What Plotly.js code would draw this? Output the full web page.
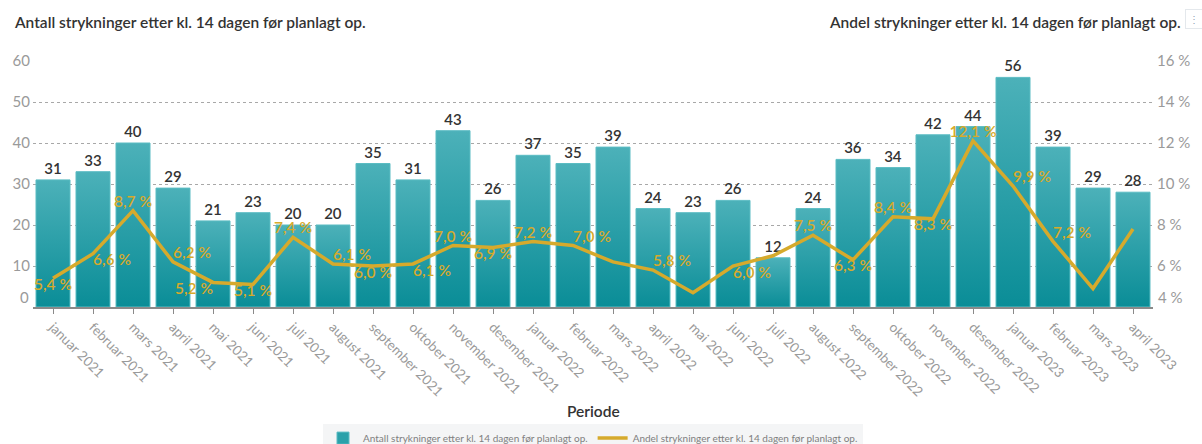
<!DOCTYPE html>
<html>
<head>
<meta charset="utf-8">
<script src="https://cdn.plot.ly/plotly-3.0.1.min.js"></script>
<style>
  html, body { margin: 0; padding: 0; background: #ffffff; }
  #chart { width: 1202px; height: 444px; }
</style>
</head>
<body>
<div id="chart"></div>
<script>
// Periods (months), counts and shares
var periods = [
  "januar 2021", "februar 2021", "mars 2021", "april 2021", "mai 2021", "juni 2021",
  "juli 2021", "august 2021", "september 2021", "oktober 2021", "november 2021", "desember 2021",
  "januar 2022", "februar 2022", "mars 2022", "april 2022", "mai 2022", "juni 2022",
  "juli 2022", "august 2022", "september 2022", "oktober 2022", "november 2022", "desember 2022",
  "januar 2023", "februar 2023", "mars 2023", "april 2023"
];
var antall = [31, 33, 40, 29, 21, 23, 20, 20, 35, 31, 43, 26,
              37, 35, 39, 24, 23, 26, 12, 24, 36, 34, 42, 44,
              56, 39, 29, 28];
var andel = [5.4, 6.6, 8.7, 6.2, 5.2, 5.1, 7.4, 6.1, 6.0, 6.1, 7.0, 6.9,
             7.2, 7.0, 6.2, 5.8, 4.7, 6.0, 6.5, 7.5, 6.3, 8.4, 8.3, 12.1,
             9.9, 7.2, 4.9, 7.8];
// Which shares get a value label
var andelLabelled = [1, 1, 1, 1, 1, 1, 1, 1, 1, 1, 1, 1,
                     1, 1, 0, 1, 0, 1, 0, 1, 1, 1, 1, 1,
                     1, 1, 0, 0];
var leftTicks = [10, 20, 30, 40, 50, 60];
var rightTicks = [6, 8, 10, 12, 14, 16];

var seriesNameA = "Antall strykninger etter kl. 14 dagen før planlagt op.";
var seriesNameB = "Andel strykninger etter kl. 14 dagen før planlagt op.";

var FONT = "Lato, 'Open Sans', sans-serif";
var GOLD = "#d6aa2c";

var labelPos = [
  "bottom center", "bottom right", "top center", "top right", "bottom left", "bottom center",
  "top center", "top right", "bottom center", "bottom right", "top center", "bottom center",
  "top center", "top right", "top center", "top right", "bottom center", "bottom right",
  "top center", "top center", "bottom center", "top center", "bottom center", "top center",
  "top right", "top right", "bottom center", "top center"
];

function fmtPct(v) { return v.toFixed(1).replace(".", ",") + " %"; }

var barTrace = {
  type: "bar",
  name: seriesNameA,
  x: periods,
  y: antall,
  text: antall.map(String),
  textposition: "outside",
  cliponaxis: false,
  textfont: { family: FONT, size: 15, color: "#333333", weight: 600 },
  marker: { color: "#2aa1aa", line: { color: "#5bbcc3", width: 1 } },
  hoverinfo: "skip"
};

var lineTrace = {
  type: "scatter",
  mode: "lines+text",
  name: seriesNameB,
  x: periods,
  y: andel,
  yaxis: "y2",
  text: andel.map(function (v, i) { return andelLabelled[i] ? fmtPct(v) : ""; }),
  textposition: labelPos,
  cliponaxis: false,
  textfont: { family: FONT, size: 15.5, color: GOLD, weight: 600 },
  line: { color: GOLD, width: 3.5 },
  hoverinfo: "skip"
};

var layout = {
  width: 1202,
  height: 444,
  margin: { l: 33, r: 49, t: 61, b: 137, autoexpand: false },
  paper_bgcolor: "#ffffff",
  plot_bgcolor: "#ffffff",
  font: { family: FONT, color: "#333333" },
  bargap: 0.15,
  showlegend: true,
  legend: {
    orientation: "h",
    x: 0.5, xanchor: "center",
    y: -0.474, yanchor: "top",
    bgcolor: "#f4f5f6",
    font: { family: FONT, size: 10, color: "#808080" },
    itemwidth: 30,
    tracegroupgap: 0
  },
  xaxis: {
    type: "category",
    range: [-0.5, periods.length - 0.5],
    automargin: false,
    tickangle: 45,
    tickfont: { family: FONT, size: 13.5, color: "#9a9a9a" },
    showline: true,
    linecolor: "#8a8a8a",
    linewidth: 2,
    ticks: "outside",
    ticklen: 5,
    tickcolor: "#8a8a8a",
    showgrid: false,
    fixedrange: true
  },
  yaxis: {
    range: [0, 60],
    automargin: false,
    tickvals: leftTicks,
    ticktext: leftTicks.map(String),
    tickfont: { family: FONT, size: 15, color: "#9a9a9a" },
    showgrid: true,
    gridcolor: "#a8a8a8",
    griddash: "dot",
    gridwidth: 1,
    zeroline: false,
    showline: false,
    ticklabelstandoff: 2,
    fixedrange: true
  },
  yaxis2: {
    overlaying: "y",
    side: "right",
    automargin: false,
    range: [4, 16],
    tickvals: rightTicks,
    ticktext: rightTicks.map(function (v) { return v + " %"; }),
    tickfont: { family: FONT, size: 15, color: "#9a9a9a" },
    showgrid: false,
    zeroline: false,
    showline: false,
    ticklabelstandoff: 3,
    fixedrange: true
  },
  annotations: [
    { xref: "paper", yref: "paper", x: -0.0188, y: 1.1585, xanchor: "left", yanchor: "middle",
      text: seriesNameA, showarrow: false,
      font: { family: FONT, size: 15.5, color: "#333333", weight: 600 } },
    { xref: "paper", yref: "paper", x: 1.0268, y: 1.1585, xanchor: "right", yanchor: "middle",
      text: seriesNameB, showarrow: false,
      font: { family: FONT, size: 15.5, color: "#333333", weight: 600 } },
    { xref: "paper", yref: "paper", x: 0.5, y: -0.4228, xanchor: "center", yanchor: "middle",
      text: "Periode", showarrow: false,
      font: { family: FONT, size: 15.5, color: "#333333", weight: 600 } },
    // baseline labels sit just above the axis line
    { xref: "paper", yref: "y", x: 0, y: 0, xanchor: "right", yanchor: "middle",
      xshift: -2, yshift: 10, text: "0", showarrow: false,
      font: { family: FONT, size: 15, color: "#9a9a9a" } },
    { xref: "paper", yref: "y2", x: 1, y: 4, xanchor: "left", yanchor: "middle",
      xshift: 3, yshift: 10, text: "4 %", showarrow: false,
      font: { family: FONT, size: 15, color: "#9a9a9a" } },
    // widget menu glyph
    { xref: "paper", yref: "paper", x: 1.0286, y: 1.17, xanchor: "left", yanchor: "middle",
      text: "⋮", showarrow: false, bordercolor: "#e4e8ec", borderwidth: 1, borderpad: 3,
      font: { family: FONT, size: 10, color: "#8fa3b5" } }
  ]
};

// Vertical gradient fill for the bars
function applyBarGradient(gd) {
  var svg = gd.querySelector(".main-svg");
  if (!svg) return;
  var ns = "http://www.w3.org/2000/svg";
  var defs = svg.querySelector("defs");
  if (!defs) { defs = document.createElementNS(ns, "defs"); svg.insertBefore(defs, svg.firstChild); }
  if (!defs.querySelector("#barGrad")) {
    var g = document.createElementNS(ns, "linearGradient");
    g.setAttribute("id", "barGrad");
    g.setAttribute("x1", "0"); g.setAttribute("y1", "0");
    g.setAttribute("x2", "0"); g.setAttribute("y2", "1");
    var s1 = document.createElementNS(ns, "stop");
    s1.setAttribute("offset", "0"); s1.setAttribute("stop-color", "#4cb1b9");
    var s2 = document.createElementNS(ns, "stop");
    s2.setAttribute("offset", "1"); s2.setAttribute("stop-color", "#0a8d97");
    g.appendChild(s1); g.appendChild(s2);
    defs.appendChild(g);
  }
  gd.querySelectorAll(".barlayer .point path").forEach(function (p) {
    p.style.fill = "url(#barGrad)";
    p.style.fillOpacity = 1;
  });
}

var gd = document.getElementById("chart");
Plotly.newPlot(gd, [barTrace, lineTrace], layout, { displayModeBar: false, staticPlot: true })
  .then(function () {
    applyBarGradient(gd);
    gd.on && gd.on("plotly_afterplot", function () { applyBarGradient(gd); });
  });
</script>
</body>
</html>
